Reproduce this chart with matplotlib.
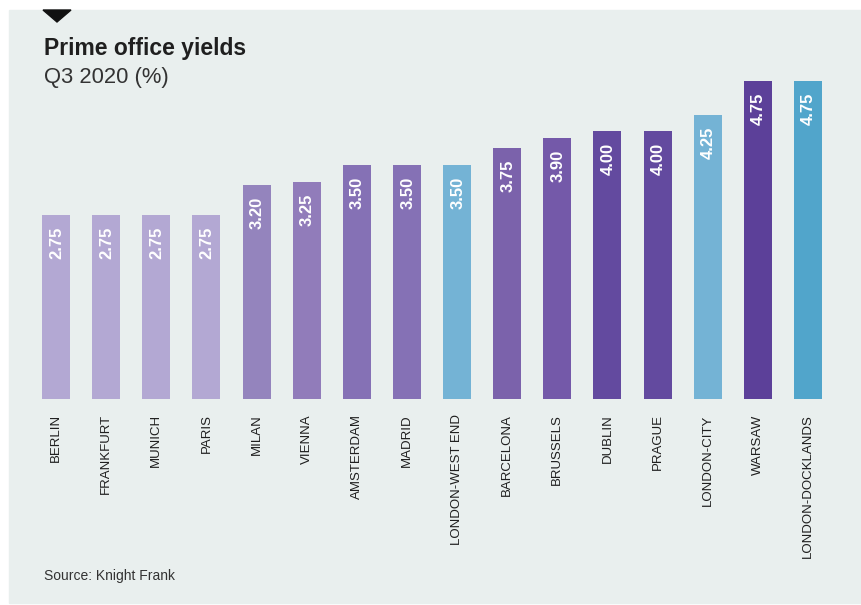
import matplotlib
matplotlib.use("Agg")
import matplotlib.pyplot as plt
from matplotlib.patches import Rectangle, Polygon

# --- data ---
cities = ["BERLIN", "FRANKFURT", "MUNICH", "PARIS", "MILAN", "VIENNA",
          "AMSTERDAM", "MADRID", "LONDON-WEST END", "BARCELONA", "BRUSSELS",
          "DUBLIN", "PRAGUE", "LONDON-CITY", "WARSAW", "LONDON-DOCKLANDS"]
yields = [2.75, 2.75, 2.75, 2.75, 3.20, 3.25, 3.50, 3.50, 3.50, 3.75, 3.90,
          4.00, 4.00, 4.25, 4.75, 4.75]
bar_colors = ["#b3a8d3", "#b3a8d3", "#b3a8d3", "#b3a8d3", "#9484bd", "#917cba",
              "#8571b5", "#8571b5", "#74b3d5", "#7b62ab", "#7459a9",
              "#634a9f", "#634a9f", "#74b3d5", "#5c4099", "#51a5cb"]

BG = "#e9efee"
INK = "#1f1f1f"
W, H = 861, 605

plt.rcParams["font.family"] = ["Liberation Sans", "DejaVu Sans"]
fig = plt.figure(figsize=(W / 100, H / 100), dpi=100)
fig.patch.set_facecolor("white")

# grey card behind the chart + black marker triangle (below the axes)
fig.patches.append(Rectangle((9 / W, 2 / H), (W - 9) / W, (H - 12) / H,
                             transform=fig.transFigure, color=BG, zorder=-2))
fig.patches.append(Polygon([(43 / W, 1 - 10 / H), (71 / W, 1 - 10 / H),
                            (57 / W, 1 - 22 / H)], closed=True,
                           transform=fig.transFigure, color="#111111", zorder=-1))

# axes placed so bars land where the reference has them
ax = fig.add_axes([31 / W, 206 / H, 802 / W, 334.5 / H])
ax.set_facecolor("none")
x = list(range(len(cities)))
ax.bar(x, yields, width=0.56, color=bar_colors, zorder=2)
ax.set_xlim(-0.5, len(cities) - 0.5)
ax.set_ylim(0, 5)

for xi, v in zip(x, yields):
    ax.annotate(f"{v:.2f}", (xi, v), xytext=(0.5, -8.5), textcoords="offset points",
                rotation=90, ha="center", va="top", fontsize=12,
                fontweight="bold", color="white", zorder=3)

ax.set_xticks(x)
ax.set_xticklabels(cities, rotation=90, fontsize=9.5, color=INK)
ax.tick_params(axis="x", length=0, pad=11)
ax.set_yticks([])
for s in ax.spines.values():
    s.set_visible(False)

fig.text(44 / W, 1 - 48 / H, "Prime office yields", fontsize=16.5,
         fontweight="bold", color=INK, ha="left", va="center")
fig.text(44 / W, 1 - 78 / H, "Q3 2020 (%)", fontsize=15.8, color="#333333",
         ha="left", va="center")
fig.text(44 / W, 1 - 576 / H, "Source: Knight Frank", fontsize=10,
         color="#333333", ha="left", va="center")

fig.savefig("out.png", dpi=100, facecolor="white")
